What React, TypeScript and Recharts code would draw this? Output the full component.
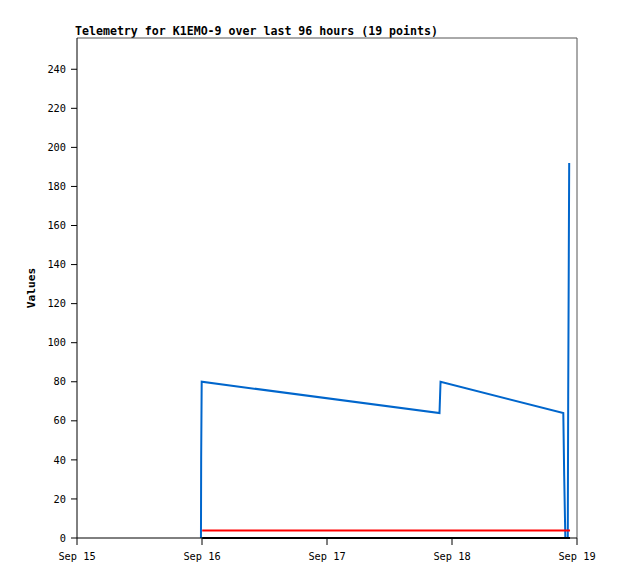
import React from "react";
import { Line, LineChart, ReferenceLine, XAxis, YAxis } from "recharts";

// hours since Sep 15 00:00
const DAY_TICKS = [0, 24, 48, 72, 96];
const DAY_LABELS = ["Sep 15", "Sep 16", "Sep 17", "Sep 18", "Sep 19"];
const VALUE_TICKS = [0, 20, 40, 60, 80, 100, 120, 140, 160, 180, 200, 220, 240];

const blueHours = [23.8, 23.84, 23.94, 69.6, 69.8, 93.37, 93.54, 93.76, 94.23, 94.31, 94.5];
const blueValues = [0, 41, 80, 64, 80, 64, 32, 0, 0, 72.6, 192];

const redHours = [24.04, 94.66];
const redValues = [3.8, 3.8];

const blackHours = [24.04, 94.66];
const blackValues = [0, 0];

const toRows = (hours: number[], values: number[]) =>
  hours.map((t, i) => ({ t, v: values[i] }));

const MONO = "'DejaVu Sans Mono', 'Liberation Mono', monospace";

const tickStyle = { fill: "#000", fontSize: 10.3, fontFamily: MONO };

export default function App() {
  return (
    <div style={{ position: "absolute", left: 0, top: 0, width: 618, height: 579, background: "#fff" }}>
      <div
        style={{
          position: "absolute",
          left: 75,
          top: 25,
          fontFamily: MONO,
          fontWeight: "bold",
          fontSize: 11.6,
          lineHeight: "12px",
          whiteSpace: "nowrap",
        }}
      >
        Telemetry for K1EMO-9 over last 96 hours (19 points)
      </div>
      <div
        style={{
          position: "absolute",
          left: 31.5,
          top: 288,
          transform: "translate(-50%, -50%) rotate(-90deg)",
          fontFamily: MONO,
          fontWeight: "bold",
          fontSize: 11.2,
          lineHeight: "12px",
          whiteSpace: "nowrap",
        }}
      >
        Values
      </div>
      <LineChart width={618} height={579} margin={{ top: 38, right: 41, bottom: 11, left: 37 }}>
        <XAxis
          dataKey="t"
          type="number"
          domain={[0, 96]}
          ticks={DAY_TICKS}
          tickFormatter={(t: number) => DAY_LABELS[DAY_TICKS.indexOf(t)] ?? ""}
          height={30}
          tickSize={7}
          tickMargin={8}
          axisLine={{ stroke: "#000" }}
          tickLine={{ stroke: "#000" }}
          tick={tickStyle}
          interval={0}
        />
        <YAxis
          type="number"
          domain={[0, 256]}
          ticks={VALUE_TICKS}
          width={40}
          tickSize={6}
          tickMargin={5}
          axisLine={{ stroke: "#000" }}
          tickLine={{ stroke: "#000" }}
          tick={tickStyle}
          interval={0}
        />
        <ReferenceLine y={256} stroke="#555" />
        <ReferenceLine x={96} stroke="#555" />
        <Line
          data={toRows(blueHours, blueValues)}
          dataKey="v"
          stroke="#0066cc"
          strokeWidth={2}
          dot={false}
          type="linear"
          isAnimationActive={false}
        />
        <Line
          data={toRows(redHours, redValues)}
          dataKey="v"
          stroke="#ff0000"
          strokeWidth={2}
          dot={false}
          type="linear"
          isAnimationActive={false}
        />
        <Line
          data={toRows(blackHours, blackValues)}
          dataKey="v"
          stroke="#000"
          strokeWidth={2}
          dot={false}
          type="linear"
          isAnimationActive={false}
        />
      </LineChart>
    </div>
  );
}
